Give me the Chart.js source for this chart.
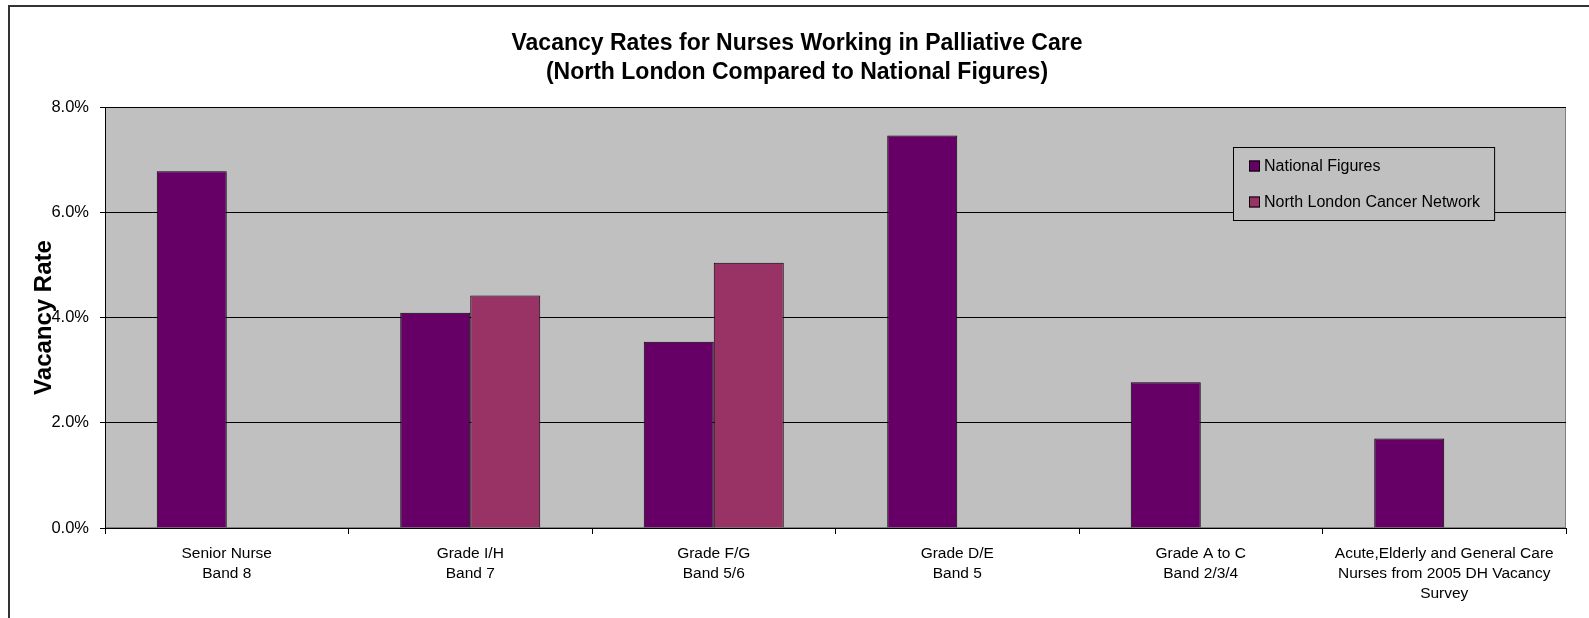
<!DOCTYPE html>
<html>
<head>
<meta charset="utf-8">
<script src="https://cdn.jsdelivr.net/npm/chart.js@4.4.1/dist/chart.umd.min.js"></script>
<style>
  body { margin: 0; background: #fff; }
  canvas { display: block; }
</style>
</head>
<body>
<canvas id="myChart" width="1589" height="618"></canvas>
<script>
const ctx = document.getElementById("myChart");

// categorias del eje x (multilinea)
const categorias = [
  ["Senior Nurse", "Band 8"],
  ["Grade I/H", "Band 7"],
  ["Grade F/G", "Band 5/6"],
  ["Grade D/E", "Band 5"],
  ["Grade A to C", "Band 2/3/4"],
  ["Acute,Elderly and General Care", "Nurses from 2005 DH Vacancy", "Survey"]
];
// valores en %
const nacional = [6.78, 4.09, 3.54, 7.46, 2.77, 1.70];
const norteLondres = [null, 4.42, 5.04, null, null, null];
const ticksY = [0, 2, 4, 6, 8];

const titulo = ["Vacancy Rates for Nurses Working in Palliative Care", "(North London Compared to National Figures)"];
const tituloY = "Vacancy Rate";

const fuente = "'Liberation Sans', Arial, sans-serif";

const decorado = {
  id: "decorado",
  beforeDraw(chart) {
    const { ctx, chartArea: a } = chart;
    ctx.save();
    ctx.fillStyle = "#fff";
    ctx.fillRect(0, 0, chart.width, chart.height);
    // fondo gris del area del grafico
    ctx.fillStyle = "#c0c0c0";
    ctx.fillRect(a.left, a.top, a.right - a.left, a.bottom - a.top);
    ctx.strokeStyle = "#808080";
    ctx.lineWidth = 1;
    ctx.strokeRect(a.left + 0.5, a.top + 0.5, a.right - a.left - 1, a.bottom - a.top - 1);
    // marco exterior
    ctx.strokeStyle = "#333";
    ctx.lineWidth = 2;
    ctx.beginPath();
    ctx.moveTo(9, chart.height);
    ctx.lineTo(9, 6);
    ctx.lineTo(chart.width, 6);
    ctx.stroke();
    ctx.restore();
  },
  afterDraw(chart) {
    const { ctx, chartArea: a } = chart;
    // titulo en dos lineas
    ctx.save();
    ctx.font = "bold 23px " + fuente;
    ctx.fillStyle = "#000";
    ctx.textAlign = "center";
    ctx.textBaseline = "middle";
    titulo.forEach((t, i) => ctx.fillText(t, 797, 44 + i * 29));
    ctx.restore();

    // titulo del eje y, encima de las etiquetas como en el original
    ctx.save();
    ctx.translate(44, (a.top + a.bottom) / 2);
    ctx.rotate(-Math.PI / 2);
    ctx.font = "bold 24px " + fuente;
    ctx.fillStyle = "#000";
    ctx.textAlign = "center";
    ctx.textBaseline = "middle";
    ctx.fillText(tituloY, 0, 0);
    ctx.restore();

    // leyenda dentro del area
    ctx.save();
    ctx.font = "16px " + fuente;
    const sets = chart.data.datasets;
    let ancho = 0;
    sets.forEach(d => { ancho = Math.max(ancho, ctx.measureText(d.label).width); });
    const lx = 1233, ly = 147;
    const w = 31 + ancho + 14, h = 73;
    ctx.fillStyle = "#c0c0c0";
    ctx.fillRect(lx, ly, w, h);
    ctx.strokeStyle = "#000";
    ctx.lineWidth = 1;
    ctx.strokeRect(lx + 0.5, ly + 0.5, w, h);
    sets.forEach((d, i) => {
      const cy = ly + 19 + i * 36;
      ctx.fillStyle = d.backgroundColor;
      ctx.fillRect(lx + 16, cy - 5.5, 11, 11);
      ctx.strokeStyle = "#000";
      ctx.strokeRect(lx + 16.5, cy - 5, 10, 10);
      ctx.fillStyle = "#000";
      ctx.textBaseline = "middle";
      ctx.fillText(d.label, lx + 31, cy + 1);
    });
    ctx.restore();
  }
};

new Chart(ctx, {
  type: "bar",
  data: {
    labels: categorias,
    datasets: [
      {
        label: "National Figures",
        data: nacional,
        backgroundColor: "#660066",
        borderColor: "#000",
        borderWidth: 1,
        categoryPercentage: 0.575,
        barPercentage: 1.0
      },
      {
        label: "North London Cancer Network",
        data: norteLondres,
        backgroundColor: "#993366",
        borderColor: "#000",
        borderWidth: 1,
        categoryPercentage: 0.575,
        barPercentage: 1.0
      }
    ]
  },
  options: {
    responsive: false,
    animation: false,
    layout: { padding: { left: 0, right: 23, top: 107, bottom: 0 } },
    plugins: {
      legend: { display: false },
      tooltip: { enabled: false },
      title: { display: false }
    },
    scales: {
      x: {
        afterFit: s => { s.height = 90; },
        grid: { offset: true, drawOnChartArea: false, color: "#000", tickLength: 6 },
        border: { color: "#000" },
        ticks: {
          color: "#000",
          font: { family: fuente, size: 15.5, lineHeight: 1.29 },
          maxRotation: 0,
          autoSkip: false,
          padding: 10
        }
      },
      y: {
        min: 0,
        max: 8,
        afterFit: s => { s.width = 105; },
        afterBuildTicks: s => { s.ticks = ticksY.map(v => ({ value: v })); },
        grid: { color: "#000", tickLength: 5 },
        border: { color: "#000" },
        ticks: {
          color: "#000",
          font: { family: fuente, size: 16.5 },
          padding: 11,
          callback: v => v.toFixed(1) + "%"
        }
      }
    }
  },
  plugins: [decorado]
});
</script>
</body>
</html>
